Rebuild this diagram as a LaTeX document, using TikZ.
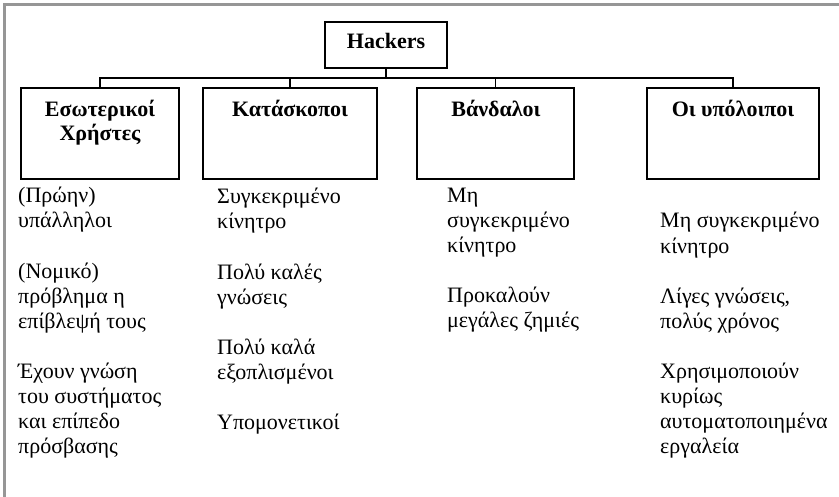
\documentclass[tikz,border=0pt]{standalone}
\usepackage{fontspec}
\setmainfont{Liberation Serif}
\tikzset{
  boxstyle/.style={draw=black, line width=1.8bp, inner sep=0pt},
  titlestyle/.style={font=\fontsize{22bp}{24bp}\selectfont\bfseries, anchor=base, inner sep=0pt},
  bodystyle/.style={font=\fontsize{22bp}{25bp}\selectfont, anchor=base west, align=left, inner sep=0pt},
  conn/.style={draw=black, line width=1.6bp}
}
\begin{document}
\begin{tikzpicture}[x=1bp,y=-1bp]
\useasboundingbox (0,0) rectangle (839,497);
\fill[white] (0,0) rectangle (839,497);
\draw[color={rgb,255:red,150;green,150;blue,150}, line width=2.2bp] (4.5,497) -- (4.5,4.5) -- (839,4.5);

\node[boxstyle, minimum width=122bp, minimum height=46bp] (hk) at (386,45) {};
\node[titlestyle] (hkt) at (386,49) {Hackers};

\node[boxstyle, minimum width=158bp, minimum height=91bp] (b1) at (100,133.5) {};
\node[boxstyle, minimum width=174bp, minimum height=91bp] (b2) at (290,133.5) {};
\node[boxstyle, minimum width=157bp, minimum height=91bp] (b3) at (495.5,133.5) {};
\node[boxstyle, minimum width=172bp, minimum height=91bp] (b4) at (733,133.5) {};

\node[titlestyle, align=center] (t1) at (100,141) {Εσωτερικοί\\Χρήστες};
\node[titlestyle] (t2) at (290,117) {Κατάσκοποι};
\node[titlestyle] (t3) at (496,117) {Βάνδαλοι};
\node[titlestyle] (t4) at (733,117) {Οι υπόλοιποι};

\coordinate (j) at (386,78);
\draw[conn] (hk.south) -- (hk.south |- j);
\draw[conn] (b1.north) -- (b1.north |- j) -- (b4.north |- j) -- (b4.north);
\draw[conn] (b2.north) -- (b2.north |- j);
\draw[conn] (b3.north) -- (b3.north |- j);

\node[bodystyle] (c1) at (18,453) {(Πρώην)\\υπάλληλοι\\[25bp](Νομικό)\\πρόβλημα η\\επίβλεψή τους\\[25bp]Έχουν γνώση\\του συστήματος\\και επίπεδο\\πρόσβασης};
\node[bodystyle] (c2) at (217,429) {Συγκεκριμένο\\κίνητρο\\[25bp]Πολύ καλές\\γνώσεις\\[25bp]Πολύ καλά\\εξοπλισμένοι\\[25bp]Υπομονετικοί};
\node[bodystyle] (c3) at (447,328) {Μη\\συγκεκριμένο\\κίνητρο\\[25bp]Προκαλούν\\μεγάλες ζημιές};
\node[bodystyle] (c4) at (660,453) {Μη συγκεκριμένο\\κίνητρο\\[25bp]Λίγες γνώσεις,\\πολύς χρόνος\\[25bp]Χρησιμοποιούν\\κυρίως\\αυτοματοποιημένα\\εργαλεία};
\end{tikzpicture}
\end{document}
